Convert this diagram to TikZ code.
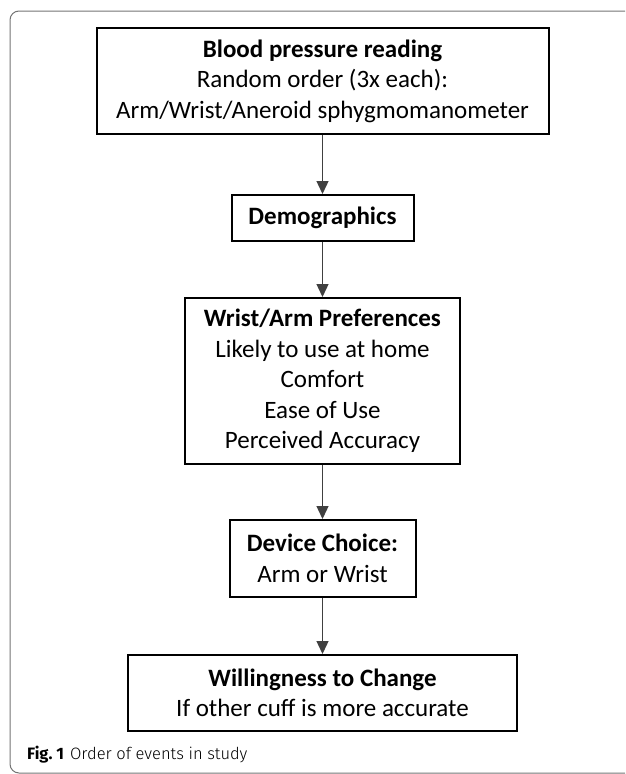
\documentclass[tikz,border=0pt]{standalone}
\usepackage{fontspec}
\setmainfont{Carlito}
\newfontfamily\capfont{Fira Sans Light}[BoldFont={Fira Sans Bold}]
\usetikzlibrary{arrows.meta}

\begin{document}
\begin{tikzpicture}[x=1pt, y=-1pt,
		stage/.style={draw, line width=2pt, inner sep=0pt, align=center, font=\fontsize{25}{30.5}\selectfont},
		flow/.style={line width=1.3pt, draw=black!75, -{Triangle[width=12pt,length=13pt]}}]
			\useasboundingbox (0,0) rectangle (625,774);
			\clip (0,0) rectangle (625,774);

			% figure frame, open to the right and bottom
			\draw[black!55, line width=1pt, rounded corners=9pt] (10,11) rectangle (700,773);

			\node[stage, minimum width=452pt, minimum height=106pt] (reading) at (322.5,81) {\textbf{Blood pressure reading}\\Random order (3x each):\\Arm/Wrist/Aneroid sphygmomanometer};
			\node[stage, minimum width=182pt, minimum height=46pt] (demo) at (322.5,218) {\textbf{Demographics}};
			\node[stage, minimum width=275pt, minimum height=166pt] (prefs) at (322.5,381) {\textbf{Wrist/Arm Preferences}\\Likely to use at home\\Comfort\\Ease of Use\\Perceived Accuracy};
			\node[stage, minimum width=186pt, minimum height=77pt] (choice) at (322.5,558.5) {\textbf{Device Choice:}\\Arm or Wrist};
			\node[stage, minimum width=389pt, minimum height=76pt] (change) at (322.5,693) {\textbf{Willingness to Change}\\If other cuff is more accurate};

			\draw[flow] (reading) -- (demo);
			\draw[flow] (demo) -- (prefs);
			\draw[flow] (prefs) -- (choice);
			\draw[flow] (choice) -- (change);

			\node[anchor=base west, inner sep=0pt, font=\capfont\fontsize{16.5}{20}\selectfont] (caption) at (27,759.5) {\textbf{Fig.~1}\hspace{6pt}Order of events in study};
\end{tikzpicture}
\end{document}
